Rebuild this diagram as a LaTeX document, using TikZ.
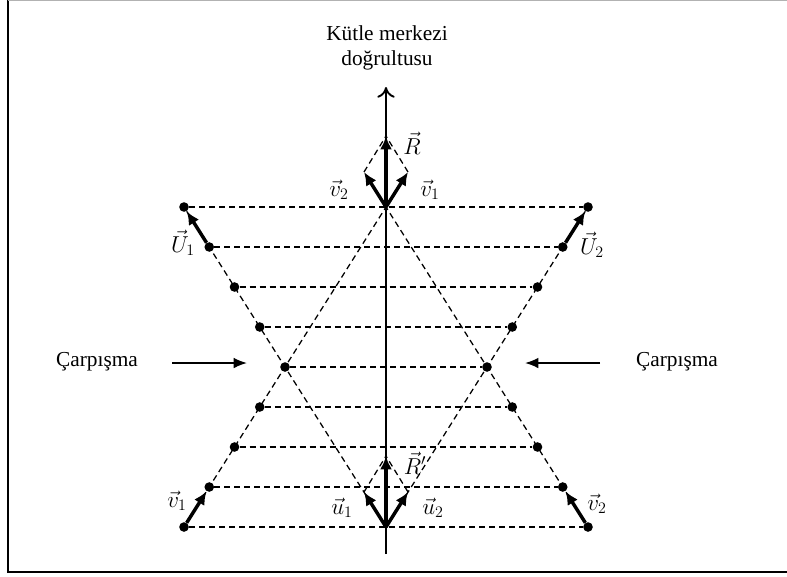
\documentclass[tikz,border=0pt]{standalone}
\usepackage{fontspec}
\setmainfont{Liberation Serif}
\usetikzlibrary{arrows.meta}
\tikzset{
  dot/.style={circle,fill=black,inner sep=0pt,minimum size=7.2pt},
  dash line/.style={dashed,dash pattern=on 4.5pt off 3pt,line width=0.95pt},
  vecarrow/.style={line width=2.6pt,-{Latex[length=10pt,width=9pt]}},
  axisline/.style={line width=1.4pt,-{To[length=8pt,width=13pt,line width=1.4pt]}},
  hitarrow/.style={line width=1.3pt,-{Latex[length=10pt,width=8pt]}},
  txt/.style={font=\fontsize{16}{19}\selectfont,inner sep=0pt},
  lab/.style={font=\fontsize{16.5}{18}\selectfont,inner sep=0pt},
}
\begin{document}
\begin{tikzpicture}[x=0.75pt,y=-0.75pt]
\useasboundingbox (0,0) rectangle (787,576);
% frame
\draw[line width=1.2pt] (8,0) -- (8,572) -- (790,572);
\draw[gray!60,line width=0.8pt] (8,0.5) -- (790,0.5);

% dots left
\node[dot] (L0) at (184,207) {};
\node[dot] (L1) at (209.25,247) {};
\node[dot] (L2) at (234.5,287) {};
\node[dot] (L3) at (259.75,327) {};
\node[dot] (L4) at (285,367) {};
\node[dot] (L5) at (259.75,407) {};
\node[dot] (L6) at (234.5,447) {};
\node[dot] (L7) at (209.25,487) {};
\node[dot] (L8) at (184,527) {};
% dots right
\node[dot] (R0) at (588,207) {};
\node[dot] (R1) at (562.75,247) {};
\node[dot] (R2) at (537.5,287) {};
\node[dot] (R3) at (512.25,327) {};
\node[dot] (R4) at (487,367) {};
\node[dot] (R5) at (512.25,407) {};
\node[dot] (R6) at (537.5,447) {};
\node[dot] (R7) at (562.75,487) {};
\node[dot] (R8) at (588,527) {};

% centre points
\coordinate (Ct) at (386,207);
\coordinate (Cb) at (386,527);
\coordinate (v2t) at (364,172);
\coordinate (v1t) at (408,172);
\coordinate (Rt) at (386,136);
\coordinate (u1t) at (364,492);
\coordinate (u2t) at (408,492);
\coordinate (Rpt) at (386,456);
\coordinate (axB) at (386,554);
\coordinate (axT) at (386,87);

% horizontal dashed lines
\foreach \i in {0,...,8} \draw[dash line] (L\i) -- (R\i);
% crossing dashed lines
\draw[dash line] (L0) -- (Cb);
\draw[dash line] (L8) -- (Ct);
\draw[dash line] (R0) -- (Cb);
\draw[dash line] (R8) -- (Ct);
% parallelograms
\draw[dash line] (v2t) -- (Rt);
\draw[dash line] (v1t) -- (Rt);
\draw[dash line] (u1t) -- (Rpt);
\draw[dash line] (u2t) -- (Rpt);

% axis
\draw[axisline] (axB) -- (axT);

% vectors
\draw[vecarrow] (Ct) -- (Rt);
\draw[vecarrow] (Ct) -- (v1t);
\draw[vecarrow] (Ct) -- (v2t);
\draw[vecarrow] (Cb) -- (Rpt);
\draw[vecarrow] (Cb) -- (u1t);
\draw[vecarrow] (Cb) -- (u2t);
\draw[vecarrow] (L1) -- (L0);
\draw[vecarrow] (R1) -- (R0);
\draw[vecarrow] (L8) -- (L7);
\draw[vecarrow] (R8) -- (R7);

% collision arrows
\coordinate (hlA) at (172,363);
\coordinate (hlB) at (247,363);
\coordinate (hrA) at (600,363);
\coordinate (hrB) at (525,363);
\draw[hitarrow] (hlA) -- (hlB);
\draw[hitarrow] (hrA) -- (hrB);

% texts
\node[txt,align=center] (title) at (387,48) {Kütle merkezi\\doğrultusu};
\node[txt] (cl) at (97,362) {Çarpışma};
\node[txt] (cr) at (677,362) {Çarpışma};

% vector labels
\node[lab] (lR) at (412,143) {$\vec{R}$};
\node[lab] (lv2a) at (339,190) {$\vec{v}_2$};
\node[lab] (lv1a) at (430,190) {$\vec{v}_1$};
\node[lab] (lU1) at (183,243) {$\vec{U}_1$};
\node[lab] (lU2) at (592,245) {$\vec{U}_2$};
\node[lab] (lv1b) at (177,501) {$\vec{v}_1$};
\node[lab] (lv2b) at (597,504) {$\vec{v}_2$};
\node[lab] (lu1) at (342,508) {$\vec{u}_1$};
\node[lab] (lu2) at (433,508) {$\vec{u}_2$};
\node[lab] (lRp) at (415,463) {$\vec{R}'$};
\end{tikzpicture}
\end{document}
